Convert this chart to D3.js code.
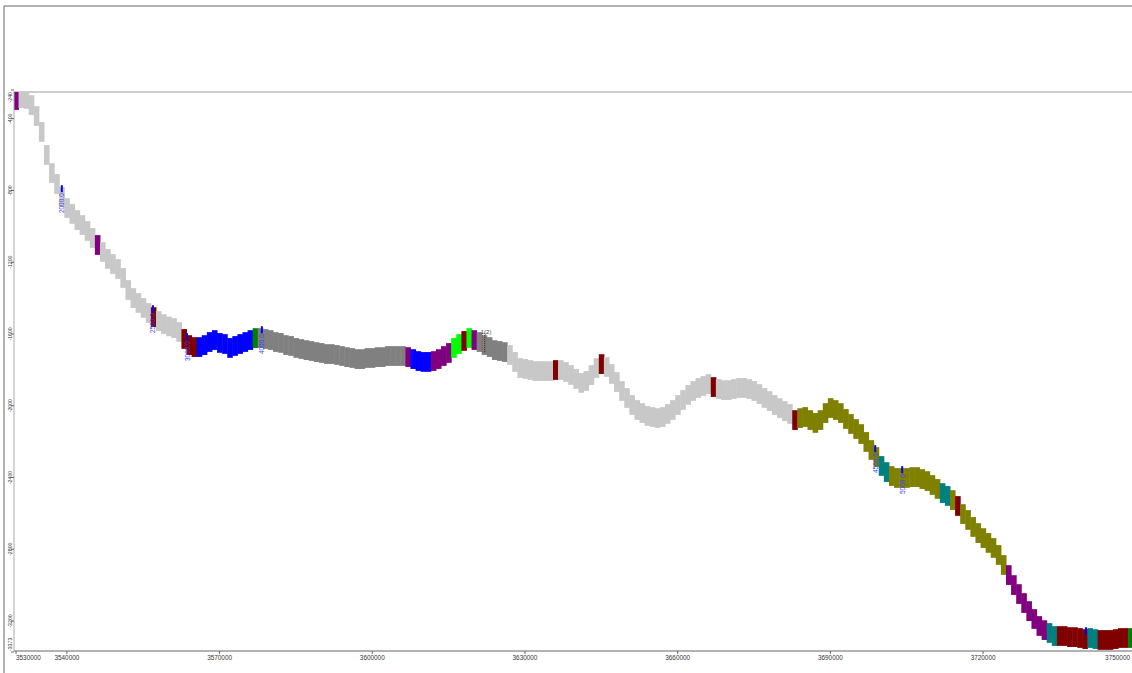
<!DOCTYPE html>
<html>
<head>
<meta charset="utf-8">
<script src="https://cdn.jsdelivr.net/npm/d3@7"></script>
<style>
  body { margin: 0; background: #fff; }
  svg { display: block; }
  text { font-family: "Liberation Sans", Arial, sans-serif; }
</style>
</head>
<body>
<svg id="chart" width="1132" height="673"></svg>
<script>
// stations along the section, one every 1000 m of easting
const stationStart = 3530000,
      stationStep = 1000;

// elevation of the band centre at each station
const elevation = [
  -296, -285, -290, -324, -385, -474, -602, -703, -764, -837,
  -898, -931, -965, -993, -1026, -1065, -1104, -1143, -1182, -1210,
  -1238, -1288, -1355, -1400, -1427, -1455, -1483, -1506, -1528, -1545,
  -1558, -1567, -1589, -1628, -1662, -1673, -1673, -1662, -1645, -1634,
  -1650, -1656, -1678, -1667, -1656, -1645, -1634, -1623, -1623, -1628,
  -1634, -1645, -1650, -1662, -1667, -1678, -1684, -1690, -1695, -1701,
  -1706, -1712, -1712, -1717, -1723, -1729, -1734, -1740, -1740, -1734,
  -1734, -1729, -1729, -1723, -1723, -1723, -1723, -1729, -1740, -1751,
  -1756, -1756, -1751, -1740, -1723, -1706, -1678, -1656, -1639, -1623,
  -1634, -1645, -1662, -1673, -1690, -1695, -1701, -1717, -1756, -1790,
  -1795, -1801, -1807, -1807, -1807, -1807, -1801, -1801, -1812, -1829,
  -1851, -1873, -1862, -1829, -1790, -1768, -1784, -1823, -1868, -1918,
  -1957, -1996, -2024, -2041, -2057, -2063, -2069, -2063, -2046, -2024,
  -1996, -1968, -1940, -1918, -1901, -1890, -1879, -1896, -1907, -1913,
  -1913, -1907, -1901, -1901, -1907, -1918, -1935, -1957, -1974, -1996,
  -2013, -2030, -2046, -2080, -2069, -2063, -2080, -2096, -2080, -2041,
  -2013, -2024, -2041, -2074, -2102, -2130, -2158, -2202, -2247, -2286,
  -2336, -2370, -2392, -2403, -2403, -2403, -2398, -2398, -2409, -2420,
  -2442, -2464, -2487, -2503, -2526, -2559, -2604, -2637, -2676, -2710,
  -2738, -2765, -2793, -2832, -2888, -2944, -3000, -3050, -3100, -3145,
  -3189, -3228, -3251, -3267, -3284, -3284, -3284, -3290, -3290, -3295,
  -3301, -3295, -3301, -3306, -3306, -3306, -3301, -3295, -3295, -3295
];

// colour intervals: easting where each one starts, and its code
const intervalFrom = [
  3530000, 3531000, 3546000, 3547000, 3557000, 3558000, 3563000, 3566000, 3577000, 3578000,
  3607000, 3608000, 3612000, 3616000, 3618000, 3619000, 3620000, 3621000, 3627000, 3636000,
  3637000, 3645000, 3646000, 3667000, 3668000, 3683000, 3684000, 3700000, 3702000, 3712000,
  3714000, 3715000, 3716000, 3725000, 3733000, 3735000, 3741000, 3743000, 3749000
];
const intervalCode = [
  "P", "S", "P", "S", "M", "S", "M", "B", "G", "D",
  "P", "B", "P", "L", "M", "L", "P", "D", "S", "M",
  "S", "M", "S", "M", "S", "M", "O", "T", "O", "T",
  "O", "M", "O", "P", "T", "M", "T", "M", "G"
];

// depth marks along the band
const markerEasting = [3539000, 3556900, 3563600, 3578300, 3698800, 3704100, 3740200];
const markerLabel = ["2000.0", "2500.0", "3000.0", "4000.0", "4500.0", "5000.0", ""];

// dashed pick
const pickEasting = [3621900];
const pickLabel = ["1(2)"];

const xTicks = [3530000, 3540000, 3570000, 3600000, 3630000, 3660000, 3690000, 3720000, 3750000];
const yTicks = [-240, -400, -800, -1200, -1600, -2000, -2400, -2800, -3200, -3373];

const colors = {
  P: "#800080", S: "#c8c8c8", M: "#800000", B: "#0000ff", G: "#008000",
  D: "#808080", L: "#00ff00", O: "#808000", T: "#008080"
};

const W = 1132, H = 673,
      pLeft = 14, pTop = 92, pBottom = 651, pRight = 1132,
      bandHalf = 55; // half thickness of the band, metres

const svg = d3.select("#chart");

const x = d3.scaleLinear().domain([3530000, 3750000]).range([16, 16 + 220 * 5.09]);
const y = d3.scaleLinear().domain([-240, -3373]).range([90, 652]);

const easting = elevation.map((_, i) => stationStart + i * stationStep);
const codeAt = e => intervalCode[d3.bisectRight(intervalFrom, e) - 1];
const elevAt = e => elevation[Math.max(0, Math.min(elevation.length - 1, Math.round((e - stationStart) / stationStep)))];

// frame
svg.append("line").attr("x1", 4).attr("x2", W).attr("y1", 6).attr("y2", 6)
  .attr("stroke", "#666").attr("stroke-width", 1);
svg.append("line").attr("x1", 4).attr("x2", 4).attr("y1", 6).attr("y2", H)
  .attr("stroke", "#666").attr("stroke-width", 1);
svg.append("line").attr("x1", pLeft - 1).attr("x2", pRight).attr("y1", pTop).attr("y2", pTop)
  .attr("stroke", "#999").attr("stroke-width", 1);

svg.append("clipPath").attr("id", "plot")
  .append("rect").attr("x", pLeft).attr("y", pTop).attr("width", pRight - pLeft).attr("height", pBottom - pTop);

const g = svg.append("g").attr("clip-path", "url(#plot)");

g.selectAll("rect.st")
  .data(easting)
  .join("rect")
  .attr("class", "st")
  .attr("x", e => x(e - stationStep / 2))
  .attr("width", e => x(e + stationStep / 2) - x(e - stationStep / 2) + 0.5)
  .attr("y", (e, i) => y(elevation[i] + bandHalf))
  .attr("height", (e, i) => y(elevation[i] - bandHalf) - y(elevation[i] + bandHalf))
  .attr("fill", e => colors[codeAt(e)]);

// depth marks
markerEasting.forEach((e, i) => {
  const cx = x(e), y0 = y(elevAt(e) + bandHalf) - 2;
  g.append("rect").attr("x", cx - 1).attr("y", y0).attr("width", 2).attr("height", 7)
    .attr("fill", "#0000ff");
  if (markerLabel[i]) {
    g.append("text")
      .attr("transform", `translate(${cx + 2.5},${y0 + 8}) rotate(-90)`)
      .attr("text-anchor", "end")
      .attr("font-size", 6.5)
      .attr("fill", "#3a3aff")
      .text(markerLabel[i]);
  }
});

// dashed pick
pickEasting.forEach((e, i) => {
  const cx = x(e), y0 = y(elevAt(e) + bandHalf) - 2;
  g.append("line").attr("x1", cx - 1.5).attr("x2", cx - 1.5).attr("y1", y0).attr("y2", y0 + 20)
    .attr("stroke", "#b04040").attr("stroke-width", 1).attr("stroke-dasharray", "1,1");
  g.append("line").attr("x1", cx + 1).attr("x2", cx + 1).attr("y1", y0).attr("y2", y0 + 20)
    .attr("stroke", "#222").attr("stroke-width", 1).attr("stroke-dasharray", "1,1");
  g.append("text").attr("x", cx - 3).attr("y", y0 + 1)
    .attr("font-size", 6).attr("fill", "#444").text(pickLabel[i]);
});

// axes
svg.append("line").attr("x1", pLeft).attr("x2", pLeft).attr("y1", pTop).attr("y2", pBottom)
  .attr("stroke", "#aaa");
svg.append("line").attr("x1", pLeft).attr("x2", pRight).attr("y1", pBottom).attr("y2", pBottom)
  .attr("stroke", "#666");

const xa = svg.append("g");
xTicks.forEach((v, i) => {
  const px = x(v);
  xa.append("line").attr("x1", px).attr("x2", px).attr("y1", pBottom).attr("y2", pBottom + 3)
    .attr("stroke", "#666");
  xa.append("text")
    .attr("x", i === 0 ? px : Math.min(px, pRight - 2))
    .attr("y", pBottom + 9)
    .attr("text-anchor", i === 0 ? "start" : (i === xTicks.length - 1 ? "end" : "middle"))
    .attr("font-size", 6.4).attr("fill", "#333")
    .text(v);
});

const ya = svg.append("g");
yTicks.forEach((v, i) => {
  const py = y(v);
  ya.append("line").attr("x1", pLeft - 3).attr("x2", pLeft).attr("y1", py).attr("y2", py)
    .attr("stroke", "#666");
  ya.append("text")
    .attr("transform", `translate(12,${Math.max(pTop, Math.min(pBottom, py))}) rotate(-90)`)
    .attr("text-anchor", i === 0 ? "end" : (i === yTicks.length - 1 ? "start" : "middle"))
    .attr("font-size", 5.2).attr("fill", "#333")
    .text(v);
});
</script>
</body>
</html>
